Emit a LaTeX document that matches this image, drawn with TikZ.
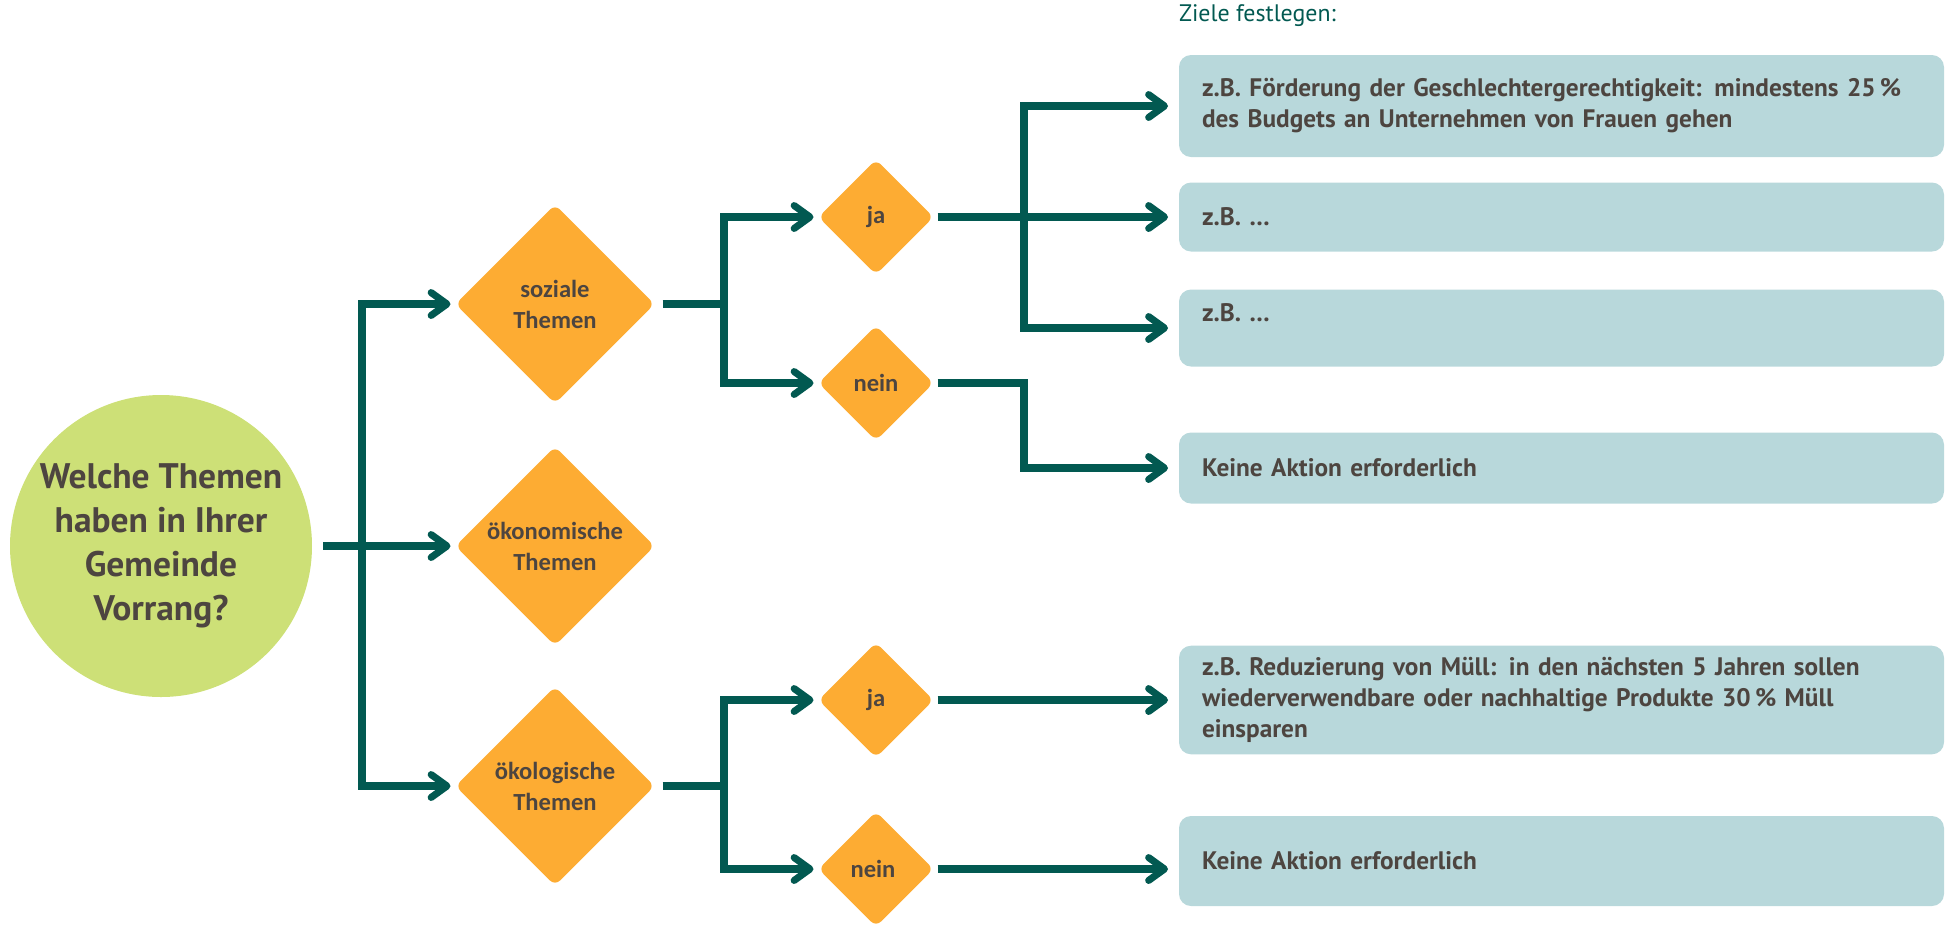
\documentclass[tikz,border=0pt]{standalone}
\usepackage{fontspec}
\setmainfont{PT Sans}
\newfontfamily\rautenschrift{Carlito}
\usetikzlibrary{shapes.geometric,arrows.meta}

\definecolor{petrol}{RGB}{2,89,81}
\definecolor{schrift}{RGB}{77,69,64}
\definecolor{rautenorange}{RGB}{253,172,51}
\definecolor{hellgruen}{RGB}{205,224,119}
\definecolor{kastenblau}{RGB}{184,216,219}

\begin{document}
\begin{tikzpicture}
				[
				x=0.1mm, y=-0.1mm, text=schrift, outer sep=0pt,
				%Verbindungen und Pfeilspitzen
				linie/.style={line width=2pt, petrol},
				pfeil/.style={linie, -{Straight Barb[round, length=4.5pt, width=6.5pt]}, shorten >=0.5mm},
				%Knoten
				frage/.style={circle, fill=hellgruen, minimum size=30.2mm, inner sep=0pt, align=center, font=\bfseries\fontsize{10.1}{12.5}\selectfont},
				raute/.style={diamond, aspect=1, fill=rautenorange, inner sep=0pt, minimum width=19.9mm, minimum height=19.9mm, rounded corners=2pt},
				klein/.style={raute, minimum width=11.5mm, minimum height=11.5mm},
				rautentext/.style={align=center, font=\rautenschrift\bfseries\fontsize{7}{8.8}\selectfont},
				ziel/.style={rectangle, anchor=west, fill=kastenblau, rounded corners=1.2mm, minimum width=76.5mm, text width=71.9mm, inner xsep=2.3mm, align=left, font=\bfseries\fontsize{7.2}{8.8}\selectfont}
				]
				\useasboundingbox (0,0) rectangle (1957,925);
				%Frage
				\node[frage] (frage) at (161,546) {Welche Themen\\haben in Ihrer\\Gemeinde\\Vorrang?};
				%Themen
				\node[raute] (sozial) at (555,304) {};
				\node[rautentext] (sozialtext) at (sozial) {soziale\\Themen};
				\node[raute] (oekonom) at (555,546) {};
				\node[rautentext] (oekonomtext) at (oekonom) {ökonomische\\Themen};
				\node[raute] (oekolog) at (555,786) {};
				\node[rautentext] (oekologtext) at (oekolog) {ökologische\\Themen};
				%ja / nein
				\node[klein] (ja1) at (876,217) {};
				\node[rautentext] (ja1text) at (ja1) {ja};
				\node[klein] (nein1) at (876,383) {};
				\node[rautentext] (nein1text) at (nein1) {nein};
				\node[klein] (ja2) at (876,700) {};
				\node[rautentext] (ja2text) at (ja2) {ja};
				\node[klein] (nein2) at (876,869) {};
				\node[rautentext] (nein2text) at ([xshift=-0.3mm]nein2) {nein};
				%Ziele
				\node[text=petrol, anchor=west, inner sep=0pt, font=\fontsize{6.8}{8}\selectfont] (titel) at (1179,16) {Ziele festlegen:};
				\node[ziel, minimum height=10.2mm] (ziel1) at (1179,106) {z.B. Förderung der Geschlechtergerechtigkeit: mindestens 25\,\%\\des Budgets an Unternehmen von Frauen gehen};
				\node[ziel, minimum height=6.9mm] (ziel2) at (1179,217) {z.B. \ldots};
				\node[ziel, minimum height=7.7mm] (ziel3) at (1179,328) {z.B. \ldots\\~};
				\node[ziel, minimum height=7.1mm] (keine1) at (1179,468) {Keine Aktion erforderlich};
				\node[ziel, minimum height=10.2mm] (ziel5) at (1179,700) {z.B. Reduzierung von Müll: in den nächsten 5 Jahren sollen\\wiederverwendbare oder nachhaltige Produkte 30\,\% Müll\\einsparen};
				\node[ziel, minimum height=9mm, inner xsep=1.3mm] (keine2) at (1179,861) {Keine Aktion erforderlich};
				%Verzweigungspunkte
				\coordinate (stamm) at (362,546);
				\coordinate (sz) at (724,304);
				\coordinate (oz) at (724,786);
				\coordinate (jb) at (1024,217);
				\coordinate (nb) at (1024,383);
				%Verbindungen
				\draw[linie, shorten <=1.1mm] (frage.east) -- (stamm);
				\draw[pfeil] (stamm) |- (sozial.west);
				\draw[pfeil] (stamm) -- (oekonom.west);
				\draw[pfeil] (stamm) |- (oekolog.west);
				\draw[linie, shorten <=0.8mm] (sozial.east) -- (sz);
				\draw[pfeil] (sz) |- (ja1.west);
				\draw[pfeil] (sz) |- (nein1.west);
				\draw[linie, shorten <=0.8mm] (oekolog.east) -- (oz);
				\draw[pfeil] (oz) |- (ja2.west);
				\draw[pfeil] (oz) |- (nein2.west);
				\draw[linie, shorten <=0.4mm] (ja1.east) -- (jb);
				\draw[pfeil, shorten >=1.1mm] (jb) |- (ziel1.west);
				\draw[pfeil, shorten >=1.1mm] (jb) -- (ziel2.west);
				\draw[pfeil, shorten >=1.1mm] (jb) |- (ziel3.west);
				\draw[pfeil, shorten <=0.4mm, shorten >=1.1mm] (nein1.east) -- (nb) |- (keine1.west);
				\draw[pfeil, shorten <=0.4mm, shorten >=1.1mm] (ja2.east) -- (ziel5.west);
				\draw[pfeil, shorten <=0.4mm, shorten >=1.1mm] (nein2.east) -- (nein2.east -| keine2.west);
			\end{tikzpicture}
\end{document}
